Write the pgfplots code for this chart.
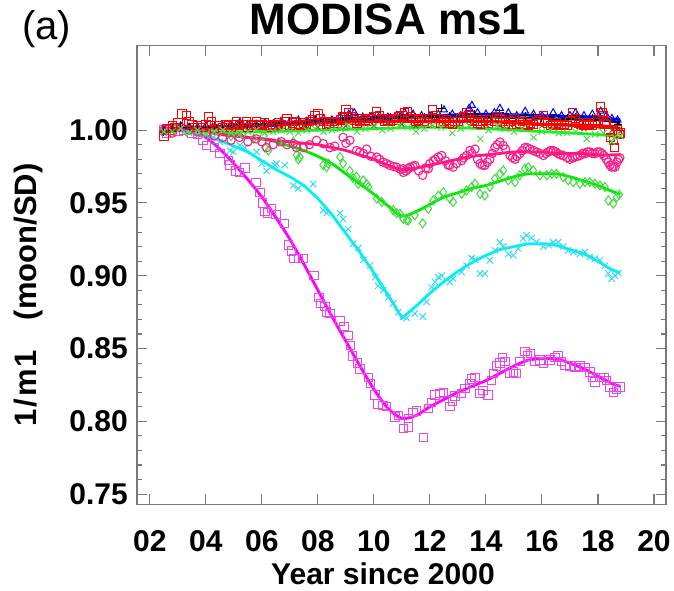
\documentclass[border=0pt]{standalone}
\usepackage{pgfplots}
\pgfplotsset{compat=1.18}
\usepackage{fontspec}
\setmainfont{Liberation Sans}
\definecolor{magL}{RGB}{255,0,255}
\definecolor{magM}{RGB}{235,70,235}
\definecolor{cyaL}{RGB}{0,240,245}
\definecolor{cyaM}{RGB}{50,220,240}
\definecolor{grnL}{RGB}{0,235,0}
\definecolor{grnM}{RGB}{60,220,60}
\definecolor{pnkL}{RGB}{255,20,125}
\definecolor{pnkM}{RGB}{250,30,135}
\definecolor{bluL}{RGB}{0,0,255}
\definecolor{redL}{RGB}{255,0,0}
\definecolor{olvL}{RGB}{70,110,40}
\definecolor{grxL}{RGB}{30,235,30}
\definecolor{grxM}{RGB}{70,225,70}
\definecolor{axgray}{RGB}{120,120,120}
\begin{document}
\begin{tikzpicture}[x=1pt,y=1pt]
\useasboundingbox (0,0) rectangle (674,590);
\begin{axis}[
  at={(137pt,85.7pt)}, anchor=south west,
  width=529pt, height=458.6pt, scale only axis,
  xmin=1.54, xmax=20.43, ymin=0.743, ymax=1.058,
  xtick={2,4,...,20}, xticklabels={02,04,06,08,10,12,14,16,18,20},
  ytick={0.75,0.80,0.85,0.90,0.95,1.00},
  yticklabels={0.75,0.80,0.85,0.90,0.95,1.00},
  minor y tick num=4,
  tick align=inside, major tick length=10pt, minor tick length=5pt,
  axis line style={axgray, line width=1.5pt},
  every tick/.style={axgray, line width=1.1pt},
  /pgf/number format/assume math mode=true,
  ticklabel style={font=\fontsize{30}{36}\selectfont\bfseries},
  xticklabel style={anchor=north, inner sep=0pt, yshift=-26pt},
  yticklabel style={anchor=east, inner sep=0pt, xshift=-9pt},
  xlabel={Year since 2000},
  xlabel style={at={(axis description cs:0.465,-0.1745)}, anchor=base, inner sep=0pt, font=\fontsize{30}{36}\selectfont\bfseries},
  ylabel={1\kern2pt/\kern2pt m\kern2pt 1\hspace{30pt}(moon/SD)},
  ylabel style={at={(axis description cs:-0.206,0.4564)}, anchor=center, inner sep=0pt, font=\fontsize{31}{37}\selectfont\bfseries},
  title={MODISA ms1},
  title style={at={(axis description cs:0.4745,1.0124)}, anchor=base, inner sep=0pt, font=\fontsize{44}{52}\selectfont\bfseries},
  clip=true,
]
% ---------- magenta squares ----------
\addplot[only marks, mark=square, mark size=4.2pt, magM, mark options={line width=1pt}] coordinates {
(2.5,1.000)(2.6,0.998)(2.8,1.001)(3.0,0.999)(3.2,1.000)(3.5,0.998)(3.7,0.997)(3.9,0.993)(4.02,0.9895)(4.3,0.988)(4.5,0.984)
(4.80,0.979)(4.86,0.976)(5.07,0.972)(5.21,0.971)(5.39,0.974)(5.79,0.964)(5.93,0.957)(6.02,0.950)(6.11,0.944)(6.19,0.943)
(6.35,0.946)(6.5,0.942)(6.8,0.936)(6.94,0.921)(7.06,0.917)(7.14,0.912)(7.3,0.912)(7.48,0.912)(7.86,0.900)(8.04,0.885)
(8.1,0.881)(8.25,0.879)(8.31,0.875)(8.43,0.874)(8.79,0.869)(8.93,0.865)(9.08,0.859)(9.17,0.852)(9.24,0.845)(9.42,0.840)
(9.5,0.836)(9.8,0.830)(9.88,0.826)(10.04,0.818)(10.15,0.812)(10.33,0.811)(10.45,0.810)(10.75,0.803)(10.87,0.804)(11.05,0.795)
(11.23,0.796)(11.23,0.802)(11.4,0.806)(11.52,0.807)(11.76,0.789)(11.94,0.809)(12.06,0.813)(12.18,0.818)(12.36,0.819)(12.48,0.820)
(12.71,0.810)(12.81,0.814)(12.89,0.8175)(13.13,0.819)(13.25,0.8225)(13.43,0.826)(13.49,0.829)(13.61,0.830)(13.79,0.819)(13.9,0.821)
(14.08,0.818)(14.2,0.828)(14.26,0.833)(14.38,0.838)(14.5,0.840)(14.6,0.844)(14.68,0.841)(14.86,0.833)(14.98,0.834)(15.07,0.833)
(15.21,0.841)(15.39,0.848)(15.48,0.845)(15.6,0.8465)(15.75,0.841)(15.93,0.842)(16.05,0.840)(16.29,0.842)(16.46,0.844)(16.58,0.845)
(16.7,0.841)(16.82,0.8385)(17.0,0.838)(17.18,0.837)(17.36,0.838)(17.54,0.837)(17.71,0.834)(17.83,0.830)(17.89,0.827)(18.07,0.830)
(18.21,0.830)(18.31,0.828)(18.43,0.8236)(18.55,0.820)(18.67,0.822)(18.79,0.8236)
};
\addplot[magL, line width=2.8pt, smooth] coordinates {
(2.5,1.000)(3.0,1.000)(3.5,0.999)(4.0,0.995)(4.5,0.987)(5.0,0.977)(5.5,0.966)(6.0,0.954)(6.5,0.940)(7.0,0.925)
(7.5,0.908)(8.0,0.890)(8.5,0.872)(9.0,0.855)(9.5,0.838)(10.0,0.822)(10.5,0.809)(11.0,0.802)(11.5,0.804)(12.0,0.810)
(12.5,0.815)(13.0,0.820)(13.5,0.824)(14.0,0.828)(14.5,0.833)(15.0,0.838)(15.5,0.842)(16.0,0.843)(16.5,0.843)(17.0,0.840)
(17.5,0.836)(18.0,0.831)(18.5,0.826)(18.8,0.824)
};
% ---------- cyan crosses ----------
\addplot[only marks, mark=x, mark size=4.5pt, cyaM, mark options={line width=1pt}] coordinates {
(2.5,1.000)(2.8,0.999)(3.1,1.001)(3.4,0.999)(3.7,0.998)(4.02,0.9975)(4.26,0.995)(4.5,0.992)(4.86,0.986)(4.98,0.985)
(5.21,0.9895)(5.39,0.988)(5.81,0.985)(5.99,0.977)(6.17,0.972)(6.46,0.976)(6.52,0.977)(6.82,0.976)(7.12,0.962)(7.3,0.960)
(7.83,0.963)(8.19,0.945)(8.31,0.943)(8.79,0.943)(8.9,0.939)(9.08,0.932)(9.26,0.922)(9.44,0.919)(9.62,0.911)(9.86,0.907)
(10.04,0.899)(10.15,0.893)(10.33,0.890)(10.51,0.885)(10.69,0.881)(10.87,0.875)(11.05,0.872)(11.17,0.871)(11.46,0.874)(11.74,0.872)
(11.88,0.882)(12.06,0.892)(12.18,0.8957)(12.3,0.899)(12.42,0.900)(12.71,0.8957)(12.83,0.898)(13.13,0.9025)(13.31,0.907)(13.49,0.912)
(13.61,0.911)(13.79,0.9015)(13.96,0.9015)(14.14,0.9106)(14.32,0.9174)(14.5,0.923)(14.62,0.920)(14.8,0.915)(14.98,0.914)(15.15,0.9186)
(15.33,0.9255)(15.45,0.9277)(15.63,0.926)(15.81,0.923)(16.05,0.920)(16.23,0.921)(16.4,0.923)(16.58,0.923)(16.76,0.920)(16.94,0.9174)
(17.12,0.9163)(17.36,0.915)(17.54,0.9163)(17.71,0.9128)(17.89,0.9117)(18.07,0.9106)(18.25,0.907)(18.37,0.9015)(18.49,0.898)(18.61,0.900)
(18.73,0.9018)
};
\addplot[cyaL, line width=2.8pt] coordinates {
(2.5,1.000)(3.0,1.000)(3.5,0.999)(4.0,0.996)(4.5,0.993)(5.0,0.989)(5.5,0.985)(6.0,0.979)(6.5,0.973)(7.0,0.968)
(7.5,0.962)(8.0,0.953)(8.5,0.942)(9.0,0.929)(9.5,0.916)(10.0,0.902)(10.5,0.887)(11.0,0.871)(11.5,0.879)(12.0,0.888)
(12.5,0.896)(13.0,0.903)(13.5,0.909)(14.0,0.914)(14.5,0.918)(15.0,0.920)(15.5,0.922)(16.0,0.922)(16.5,0.921)(17.0,0.918)
(17.5,0.915)(18.0,0.910)(18.5,0.904)(18.8,0.902)
};
% ---------- green diamonds ----------
\addplot[only marks, mark=diamond, mark size=4.5pt, grnM, mark options={line width=1pt}] coordinates {
(2.5,1.000)(2.9,1.001)(3.3,0.999)(3.7,1.000)(4.1,0.998)(4.5,0.999)(4.9,0.996)(5.3,0.997)(5.7,0.994)(6.05,0.996)
(6.11,0.988)(6.23,0.986)(6.6,0.992)(7.12,0.992)(7.24,0.983)(7.3,0.980)(7.36,0.9815)(8.19,0.976)(8.31,0.9746)(8.37,0.977)
(8.79,0.9815)(8.9,0.977)(9.14,0.972)(9.26,0.967)(9.38,0.968)(9.44,0.963)(9.62,0.9655)(9.74,0.963)(9.8,0.961)(10.1,0.953)
(10.28,0.9506)(10.69,0.945)(10.81,0.943)(10.93,0.9426)(11.05,0.939)(11.17,0.938)(11.23,0.938)(11.46,0.9415)(11.74,0.936)(11.94,0.946)
(12.12,0.9517)(12.3,0.955)(12.48,0.9574)(12.71,0.953)(12.83,0.9506)(13.13,0.9563)(13.31,0.9586)(13.49,0.961)(13.61,0.9632)(13.79,0.9563)
(13.96,0.955)(14.14,0.961)(14.32,0.9666)(14.5,0.970)(14.62,0.9723)(14.8,0.9655)(15.04,0.9643)(15.21,0.969)(15.39,0.9735)(15.51,0.9746)
(15.69,0.9723)(15.93,0.969)(16.17,0.969)(16.35,0.970)(16.52,0.970)(16.76,0.9677)(16.94,0.9655)(17.12,0.9643)(17.36,0.9632)(17.54,0.9643)
(17.71,0.9643)(17.89,0.9632)(18.07,0.962)(18.25,0.961)(18.37,0.9517)(18.55,0.9495)(18.67,0.954)(18.76,0.9557)
};
\addplot[grnL, line width=2.8pt, smooth] coordinates {
(2.5,1.000)(3.0,1.000)(3.5,1.000)(4.0,0.999)(4.5,0.998)(5.0,0.997)(5.5,0.995)(6.0,0.994)(6.5,0.992)(7.0,0.989)
(7.5,0.986)(8.0,0.982)(8.5,0.977)(9.0,0.970)(9.5,0.963)(10.0,0.956)(10.5,0.948)(11.0,0.941)(11.5,0.944)(12.0,0.949)
(12.5,0.954)(13.0,0.957)(13.5,0.960)(14.0,0.962)(14.5,0.965)(15.0,0.968)(15.5,0.970)(16.0,0.970)(16.5,0.970)(17.0,0.968)
(17.5,0.965)(18.0,0.962)(18.5,0.958)(18.8,0.956)
};
% ---------- pink circles ----------
\addplot[only marks, mark=o, mark size=4.2pt, pnkM, mark options={line width=1.1pt}] coordinates {
(2.5,1.000)(2.8,0.998)(3.1,1.002)(3.4,1.000)(3.7,0.999)(4.0,0.998)(4.3,0.996)(4.6,0.995)(4.9,0.993)(5.2,0.995)
(5.5,0.992)(5.8,0.994)(6.17,0.988)(6.4,0.990)(6.7,0.992)(7.12,0.9907)(7.24,0.988)(7.48,0.988)(7.95,0.993)(8.19,0.9907)
(8.43,0.988)(8.9,0.995)(9.14,0.993)(9.38,0.986)(9.62,0.984)(9.74,0.987)(10.1,0.9815)(10.33,0.978)(10.57,0.9758)(10.81,0.9746)
(11.05,0.9735)(11.05,0.971)(11.23,0.9735)(11.29,0.9746)(11.46,0.9758)(11.74,0.969)(11.94,0.9735)(12.12,0.979)(12.3,0.9815)(12.42,0.9826)
(12.71,0.9758)(12.83,0.9746)(13.13,0.979)(13.31,0.9826)(13.43,0.986)(13.61,0.987)(13.79,0.977)(13.96,0.9758)(14.14,0.980)(14.32,0.988)
(14.5,0.9918)(14.62,0.9895)(14.86,0.9826)(15.04,0.980)(15.21,0.9838)(15.39,0.988)(15.57,0.987)(15.81,0.985)(16.05,0.9826)(16.23,0.985)
(16.4,0.986)(16.58,0.9838)(16.76,0.9826)(17.0,0.980)(17.18,0.9815)(17.36,0.9826)(17.54,0.9838)(17.71,0.985)(17.89,0.9838)(18.07,0.985)
(18.21,0.9826)(18.37,0.978)(18.49,0.9746)(18.61,0.9746)(18.73,0.980)
(6.0,0.992)(6.9,0.990)(7.7,0.990)(8.6,0.989)(9.0,0.991)(9.5,0.985)(9.9,0.982)(10.2,0.980)(10.45,0.977)(10.7,0.975)
(10.95,0.973)(11.15,0.972)(11.4,0.975)(11.6,0.972)(11.85,0.974)(12.0,0.977)(12.2,0.980)(12.55,0.979)(12.65,0.976)(12.95,0.977)
(13.2,0.981)(13.5,0.984)(13.7,0.980)(13.87,0.976)(14.05,0.978)(14.23,0.984)(14.4,0.990)(14.7,0.987)(14.95,0.981)(15.1,0.982)
(15.3,0.986)(15.48,0.988)(15.7,0.986)(15.93,0.984)(16.14,0.984)(16.3,0.986)(16.5,0.985)(16.67,0.983)(16.9,0.981)(17.1,0.981)
(17.27,0.982)(17.45,0.984)(17.62,0.985)(17.8,0.984)(17.98,0.985)(18.14,0.984)(18.3,0.980)(18.43,0.976)(18.55,0.975)(18.68,0.978)
(18.78,0.981)
};
\addplot[pnkL, line width=2.8pt, smooth] coordinates {
(2.5,1.000)(3.0,1.000)(3.5,1.000)(4.0,0.999)(4.5,0.997)(5.0,0.996)(5.5,0.995)(6.0,0.994)(6.5,0.993)(7.0,0.992)
(7.5,0.991)(8.0,0.990)(8.5,0.988)(9.0,0.986)(9.5,0.983)(10.0,0.980)(10.5,0.976)(11.0,0.973)(11.5,0.974)(12.0,0.976)
(12.5,0.978)(13.0,0.980)(13.5,0.982)(14.0,0.983)(14.5,0.984)(15.0,0.985)(15.5,0.985)(16.0,0.985)(16.5,0.984)(17.0,0.984)
(17.5,0.984)(18.0,0.983)(18.5,0.983)(18.8,0.983)
};
% ---------- blue triangles ----------
\addplot[only marks, mark=triangle, mark size=4pt, bluL, mark options={line width=1pt}] coordinates {
(2.5,1.000)(2.8,1.001)(3.1,1.003)(3.4,1.002)(3.7,1.002)(4.0,1.003)(4.3,1.002)(4.6,1.003)(4.9,1.004)(5.2,1.005)
(5.5,1.004)(5.8,1.004)(6.1,1.005)(6.4,1.004)(6.7,1.006)(7.0,1.006)(7.3,1.007)(7.6,1.006)(7.9,1.007)(8.2,1.008)
(8.5,1.007)(8.8,1.009)(9.1,1.011)(9.3,1.012)(9.6,1.009)(9.9,1.009)(10.2,1.010)(10.5,1.009)(10.8,1.010)(11.1,1.012)
(11.4,1.011)(11.7,1.010)(12.0,1.010)(12.3,1.011)(12.5,1.014)(12.8,1.011)(13.1,1.010)(13.4,1.015)(13.5,1.017)(13.7,1.012)
(14.0,1.011)(14.3,1.012)(14.5,1.015)(14.8,1.012)(15.1,1.010)(15.4,1.013)(15.7,1.011)(16.0,1.010)(16.4,1.012)(16.7,1.010)
(17.0,1.010)(17.2,1.012)(17.5,1.010)(17.8,1.011)(18.1,1.013)(18.3,1.010)(18.5,1.008)(18.7,1.007)
};
\addplot[bluL, line width=2.6pt, smooth] coordinates {
(2.5,1.000)(4,1.002)(6,1.004)(8,1.007)(10,1.009)(12,1.010)(14,1.011)(16,1.010)(18,1.009)(18.8,1.007)
};
% ---------- black plus ----------
\addplot[only marks, mark=+, mark size=4pt, black, mark options={line width=1pt}] coordinates {
(2.5,0.999)(2.8,1.001)(3.1,1.002)(3.4,1.002)(3.7,1.001)(4.0,1.002)(4.3,1.003)(4.6,1.002)(4.9,1.003)(5.2,1.004)
(5.5,1.003)(5.8,1.004)(6.1,1.004)(6.4,1.005)(6.7,1.005)(7.0,1.006)(7.3,1.006)(7.6,1.005)(7.9,1.007)(8.2,1.006)
(8.5,1.007)(8.8,1.008)(9.1,1.010)(9.4,1.008)(9.7,1.008)(10.0,1.009)(10.3,1.008)(10.6,1.009)(10.9,1.010)(11.2,1.009)
(11.5,1.009)(11.8,1.009)(12.1,1.010)(12.4,1.015)(12.7,1.010)(13.0,1.009)(13.3,1.010)(13.6,1.011)(13.9,1.009)(14.2,1.010)
(14.5,1.012)(14.8,1.009)(15.1,1.008)(15.4,1.010)(15.7,1.009)(16.0,1.008)(16.3,1.009)(16.6,1.008)(16.9,1.008)(17.2,1.009)
(17.5,1.007)(17.8,1.008)(18.1,1.009)(18.4,1.006)(18.7,1.004)
};
\addplot[black, line width=2.6pt, smooth] coordinates {
(2.5,1.000)(4,1.002)(6,1.004)(8,1.006)(10,1.008)(12,1.009)(14,1.009)(16,1.008)(18,1.007)(18.8,1.005)
};
% ---------- olive ----------
\addplot[only marks, mark=x, mark size=3.5pt, olvL, mark options={line width=1pt}] coordinates {
(2.5,0.998)(3.0,1.002)(3.5,1.001)(4.0,1.000)(4.5,1.002)(5.0,1.001)(5.5,1.000)(6.0,1.003)(6.5,1.001)(7.0,1.002)
(7.5,1.003)(8.0,1.002)(8.5,1.004)(9.0,1.003)(9.5,1.004)(10.0,1.003)(10.5,1.005)(11.0,1.004)(11.5,1.003)(12.0,1.005)
(12.5,1.004)(13.0,1.003)(13.5,1.005)(14.0,1.004)(14.5,1.003)(15.0,1.004)(15.5,1.002)(16.0,1.003)(16.5,1.002)(17.0,1.003)
(17.5,1.001)(18.0,1.002)(18.5,1.000)(18.8,0.999)
};
% ---------- red squares ----------
\addplot[only marks, mark=square, mark size=4.2pt, redL, mark options={line width=1pt}] coordinates {
(2.5,0.996)(2.6,1.001)(2.8,1.003)(3.0,1.005)(3.15,1.011)(3.3,1.010)(3.5,1.004)(3.7,1.003)(3.9,1.002)(4.1,1.009)
(4.2,1.006)(4.4,1.003)(4.6,1.002)(4.8,1.003)(5.0,1.004)(5.1,1.006)(5.3,1.004)(5.45,1.006)(5.6,1.003)(5.8,1.006)
(6.0,1.004)(6.2,1.003)(6.4,1.004)(6.6,1.005)(6.9,1.008)(7.1,1.005)(7.3,1.004)(7.5,1.005)(7.7,1.006)(7.9,1.010)
(8.0,1.011)(8.2,1.006)(8.4,1.005)(8.6,1.006)(8.8,1.007)(9.0,1.014)(9.1,1.012)(9.3,1.007)(9.5,1.006)(9.7,1.007)
(9.9,1.008)(10.1,1.013)(10.3,1.008)(10.5,1.007)(10.7,1.008)(10.9,1.009)(11.1,1.012)(11.2,1.013)(11.4,1.008)(11.6,1.007)
(11.8,1.006)(12.0,1.008)(12.1,1.014)(12.3,1.008)(12.5,1.006)(12.7,1.005)(12.9,1.006)(13.1,1.008)(13.3,1.012)(13.5,1.007)
(13.7,1.005)(13.9,1.006)(14.1,1.005)(14.4,1.009)(14.6,1.006)(14.8,1.004)(15.0,1.008)(15.2,1.005)(15.4,1.004)(15.6,1.005)
(15.8,1.006)(16.05,1.010)(16.2,1.005)(16.4,1.004)(16.6,1.003)(16.8,1.004)(17.0,1.006)(17.1,1.012)(17.3,1.005)(17.5,1.003)
(17.7,1.004)(17.9,1.005)(18.1,1.016)(18.2,1.010)(18.3,1.006)(18.45,0.995)(18.6,0.988)(18.7,1.000)(18.8,0.998)
(2.7,1.000)(2.9,1.002)(3.4,1.006)(3.6,1.002)(4.0,1.004)(4.3,1.001)(4.7,1.004)(4.9,1.002)(5.2,1.003)(5.5,1.002)
(5.7,1.004)(5.9,1.003)(6.1,1.005)(6.3,1.002)(6.5,1.003)(6.7,1.004)(6.8,1.006)(7.0,1.003)(7.2,1.006)(7.4,1.003)
(7.6,1.004)(7.8,1.007)(8.1,1.008)(8.3,1.004)(8.5,1.006)(8.7,1.005)(8.9,1.009)(9.2,1.009)(9.4,1.005)(9.6,1.008)
(9.8,1.006)(10.0,1.009)(10.2,1.010)(10.4,1.006)(10.6,1.006)(10.8,1.007)(11.0,1.010)(11.3,1.009)(11.5,1.006)(11.7,1.008)
(11.9,1.005)(12.2,1.010)(12.4,1.005)(12.6,1.007)(12.8,1.004)(13.0,1.006)(13.2,1.009)(13.4,1.010)(13.6,1.006)(13.8,1.004)
(14.0,1.007)(14.3,1.006)(14.5,1.008)(14.7,1.005)(14.9,1.006)(15.1,1.004)(15.3,1.006)(15.5,1.003)(15.7,1.004)(15.9,1.007)
(16.1,1.006)(16.3,1.003)(16.5,1.005)(16.7,1.004)(16.9,1.003)(17.2,1.008)(17.4,1.004)(17.6,1.005)(17.8,1.003)(18.0,1.007)
(18.15,1.012)(18.25,1.004)(18.4,1.000)(18.55,0.993)(18.75,0.997)
};
\addplot[redL, line width=3.4pt, smooth] coordinates {
(2.5,1.001)(4,1.002)(6,1.003)(8,1.005)(10,1.006)(12,1.006)(14,1.006)(16,1.004)(18,1.003)(18.8,1.001)
};
% ---------- bright green crosses ----------
\addplot[only marks, mark=x, mark size=4.5pt, grxM, mark options={line width=1pt}] coordinates {
(2.5,0.999)(2.8,0.999)(3.1,1.001)(3.4,0.998)(3.7,1.000)(4.0,0.997)(4.3,0.999)(4.6,1.000)(4.9,0.998)(5.2,0.997)
(5.5,0.999)(5.8,1.000)(6.1,0.998)(6.4,0.999)(6.7,1.000)(7.0,0.999)(7.3,0.998)(7.6,1.000)(7.9,1.001)(8.2,0.999)
(8.5,1.000)(8.8,1.001)(9.1,1.003)(9.4,0.999)(9.7,1.001)(10.0,1.002)(10.3,1.000)(10.6,1.001)(10.9,1.003)(11.2,1.002)
(11.5,0.999)(11.8,1.001)(12.1,1.003)(12.4,1.002)(12.8,0.998)(13.1,1.001)(13.4,1.003)(13.8,0.994)(14.1,1.000)(14.4,1.003)
(14.7,1.001)(15.0,0.999)(15.3,1.001)(15.7,0.995)(16.0,0.999)(16.3,1.000)(16.6,0.998)(16.9,0.998)(17.2,0.999)(17.6,0.994)
(17.9,0.997)(18.2,0.998)(18.5,0.992)(18.6,0.995)(18.8,0.996)
};
\addplot[grxL, line width=2.8pt, smooth] coordinates {
(2.5,1.000)(4,0.999)(6,0.999)(8,1.000)(10,1.001)(12,1.002)(14,1.001)(16,0.999)(18,0.997)(18.8,0.995)
};
\end{axis}
\node[anchor=base west, inner sep=0pt, font=\fontsize{40}{48}\selectfont] at (22,550) {(a)};
\end{tikzpicture}
\end{document}
